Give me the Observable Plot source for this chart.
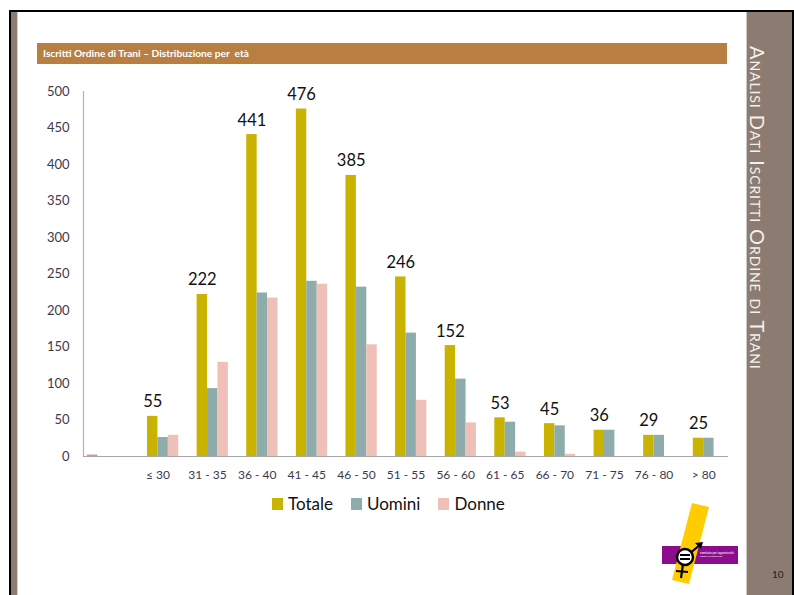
<!DOCTYPE html>
<html><head><meta charset="utf-8">
<script src="https://cdn.jsdelivr.net/npm/d3@7"></script>
<script src="https://cdn.jsdelivr.net/npm/@observablehq/plot@0.6"></script>
<style>
html,body{margin:0;padding:0;background:#fff;}
#page{position:relative;width:794px;height:595px;overflow:hidden;font-family:Lato,"Open Sans",sans-serif;background:#fff;}
.frame{position:absolute;left:9px;top:10px;width:781px;height:620px;border-top:2px solid #000;border-left:2px solid #000;border-right:3px solid #000;}
.leftstrip{position:absolute;left:11px;top:12px;width:6px;height:600px;background:#8c7b70;border-right:1px solid #d8d2cc;}
.sidebar{position:absolute;left:746px;top:12px;width:45px;height:600px;background:#8c7b70;border-left:1px solid #cfc8c2;}
.sidetext{position:absolute;left:0px;top:34px;writing-mode:vertical-rl;font-variant:small-caps;font-size:20px;line-height:22px;color:#f4f0ec;letter-spacing:0.9px;white-space:nowrap;}
.header{position:absolute;left:37px;top:43px;width:690px;height:21px;background:#b97f42;color:#fff;font-size:10.2px;font-weight:700;line-height:21px;padding-left:6px;box-sizing:border-box;white-space:pre;}
#chart{position:absolute;left:0;top:60px;}
#legend{position:absolute;left:272px;top:493px;display:flex;align-items:center;font-size:17px;color:#111;}
#legend .item{display:flex;align-items:center;margin-right:18px;}
#legend .sw{width:11px;height:12px;margin-right:5px;}
.pagenum{position:absolute;left:772px;top:568px;font-size:10px;color:#222;}
#logo{position:absolute;left:0;top:0;}
</style></head><body>
<div id="page">
  <div class="frame"></div>
  <div class="leftstrip"></div>
  <div class="sidebar"><div class="sidetext">Analisi Dati Iscritti Ordine di Trani</div></div>
  <div class="header">Iscritti Ordine di Trani – Distribuzione per  età</div>
  <div id="chart"></div>
  <div id="legend"></div>
  <svg id="logo" width="794" height="595">
    <rect x="662" y="546" width="76" height="18" fill="#8b0d8e"/>
    <text x="700" y="553.5" font-size="3" fill="#fff">comitato pari opportunità</text>
    <text x="700" y="557" font-size="2.5" fill="#fff">ordine avvocati trani</text>
    <polygon points="692,503 709,507 689,584 672,580" fill="#ffcc00"/>
    <line x1="688" y1="555" x2="701" y2="544" stroke="#000" stroke-width="2.2"/>
    <polygon points="703,542 695,543 701,549" fill="#000"/>
    <line x1="683" y1="564" x2="681" y2="578" stroke="#000" stroke-width="2.2"/>
    <line x1="676" y1="571" x2="688" y2="572" stroke="#000" stroke-width="2.2"/>
    <circle cx="685" cy="557" r="8" fill="#fff" stroke="#000" stroke-width="2.5"/>
    <rect x="680" y="554" width="10" height="2" fill="#000"/>
    <rect x="680" y="558" width="10" height="2" fill="#000"/>
  </svg>
  <div class="pagenum">10</div>
</div>
<script>
// ---- data ----
const categories = ["", "≤ 30", "31 - 35", "36 - 40", "41 - 45", "46 - 50", "51 - 55", "56 - 60", "61 - 65", "66 - 70", "71 - 75", "76 - 80", "> 80"];
const seriesNames = ["(vuoto)", "Totale", "Uomini", "Donne"];
const vuoto  = [2, null, null, null, null, null, null, null, null, null, null, null, null];
const totale = [null, 55, 222, 441, 476, 385, 246, 152, 53, 45, 36, 29, 25];
const uomini = [null, 26, 93, 224, 240, 232, 169, 106, 47, 42, 36, 29, 25];
const donne  = [null, 29, 129, 217, 236, 153, 77, 46, 6, 3, 0, 0, 0];
const yTicks = [0, 50, 100, 150, 200, 250, 300, 350, 400, 450, 500];
const legendSeries = ["Totale", "Uomini", "Donne"];
const colors = ["#d3978c", "#c9b300", "#8eacab", "#efc0b8"];

const seriesValues = [vuoto, totale, uomini, donne];
const rows = seriesValues.map((vals, k) =>
  categories.map((c, i) => ({cat: c, series: seriesNames[k], value: vals[i]})).filter(d => d.value != null));

// ---- layout ----
const W = 740, H = 440, mL = 83, mR = 12, mT = 31, mB = 44;
const bw = (W - mL - mR) / categories.length;
const nS = seriesNames.length;
const barW = bw * 0.84 / nS;
const gap0 = (bw - barW * nS) / 2;

const marks = [];
rows.forEach((r, k) => {
  marks.push(Plot.barY(r, {
    x: "cat", y: "value", fill: colors[k],
    insetLeft: gap0 + barW * k, insetRight: bw - gap0 - barW * (k + 1)
  }));
});
marks.push(Plot.ruleY([yTicks[0]], {stroke: "#a6a6a6", strokeWidth: 1.2}));
marks.push(Plot.ruleX([categories[0]], {x: d => d, y1: yTicks[0], y2: yTicks[yTicks.length - 1], dx: -bw / 2, stroke: "#b4b4b4", strokeWidth: 1.2}));
marks.push(Plot.text(rows[1].filter(d => d.value > 0), {
  x: "cat", y: "value", text: d => String(d.value),
  dx: gap0 + barW * 1.5 - bw / 2, dy: -9, lineAnchor: "bottom",
  fontSize: 16.5, fill: "#111"
}));
marks.push(Plot.axisY({ticks: yTicks, tickSize: 0, tickPadding: 14, fontSize: 13, fill: "#3a3a4c"}));
marks.push(Plot.axisX({tickSize: 0, tickPadding: 14, fontSize: 12, fill: "#3a3a4c"}));

const chart = Plot.plot({
  width: W, height: H,
  marginLeft: mL, marginRight: mR, marginTop: mT, marginBottom: mB,
  style: {fontFamily: "Lato, 'Open Sans', sans-serif", background: "transparent", overflow: "visible"},
  x: {domain: categories, padding: 0, round: false, label: null},
  y: {domain: [yTicks[0], yTicks[yTicks.length - 1]], label: null},
  marks
});
document.getElementById("chart").appendChild(chart);

// ---- legend ----
const lg = document.getElementById("legend");
legendSeries.forEach(name => {
  const k = seriesNames.indexOf(name);
  const it = document.createElement("div");
  it.className = "item";
  const sw = document.createElement("div");
  sw.className = "sw";
  sw.style.background = colors[k];
  const tx = document.createElement("span");
  tx.textContent = name;
  it.appendChild(sw); it.appendChild(tx);
  lg.appendChild(it);
});
</script>
</body></html>
